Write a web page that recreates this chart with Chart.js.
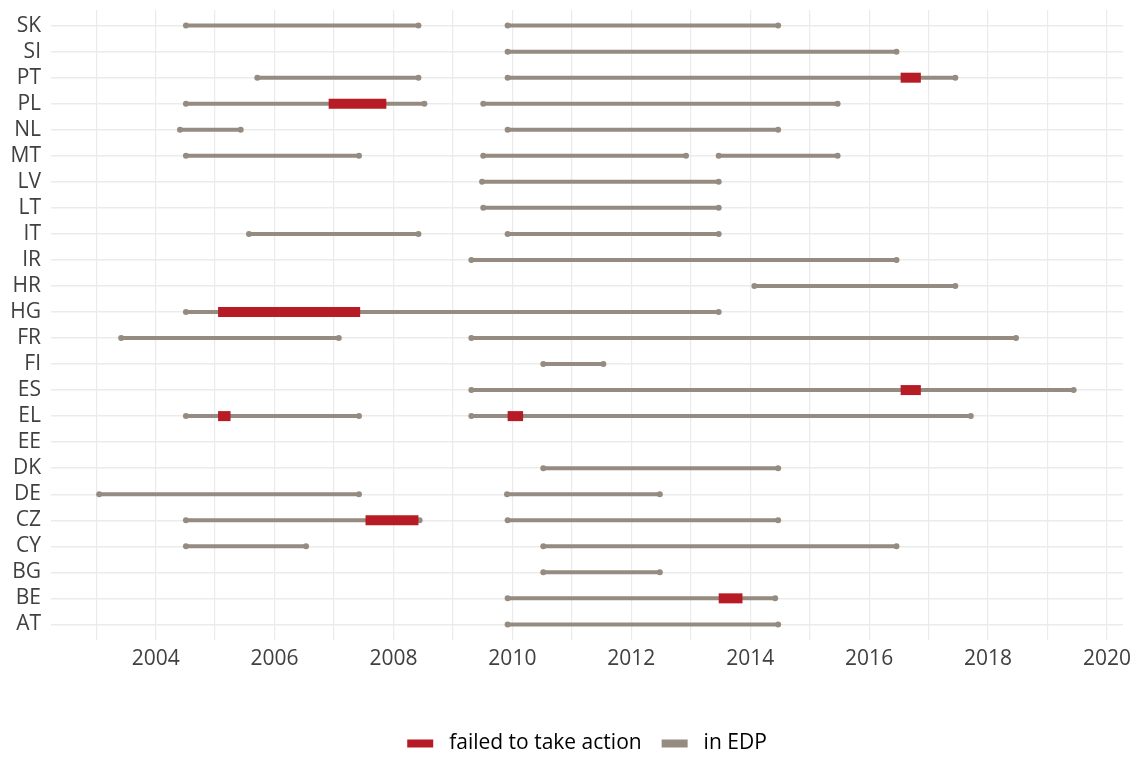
<!DOCTYPE html>
<html>
<head>
<meta charset="utf-8">
<script src="https://cdn.jsdelivr.net/npm/chart.js@4/dist/chart.umd.min.js"></script>
<style>
  html, body { margin: 0; padding: 0; background: #fff; }
  #wrap { width: 1137px; height: 758px; }
</style>
</head>
<body>
<div id="wrap"><canvas id="edpChart"></canvas></div>
<script>
// countries, top to bottom
const countries = ["SK","SI","PT","PL","NL","MT","LV","LT","IT","IR","HR","HG",
                   "FR","FI","ES","EL","EE","DK","DE","CZ","CY","BG","BE","AT"];

// periods in EDP (decimal years), one entry per country, null = none
const edpFirst = [
  [2004.51,2008.42], null, [2005.71,2008.42], [2004.51,2008.52], [2004.41,2005.43],
  [2004.51,2007.42], null, null, [2005.57,2008.42], null, null, [2004.51,2013.47],
  [2003.42,2007.08], null, null, [2004.51,2007.42], null, null, [2003.05,2007.42],
  [2004.51,2008.44], [2004.51,2006.53], null, null, null
];
const edpSecond = [
  [2009.92,2014.47], [2009.92,2016.46], [2009.92,2017.45], [2009.51,2015.47], [2009.92,2014.47],
  [2009.51,2012.92], [2009.49,2013.47], [2009.51,2013.47], [2009.92,2013.47], [2009.31,2016.46],
  [2014.07,2017.45], null, [2009.31,2018.47], [2010.52,2011.53], [2009.31,2019.44],
  [2009.31,2017.71], null, [2010.52,2014.47], [2009.91,2012.48], [2009.92,2014.47],
  [2010.52,2016.46], [2010.52,2012.48], [2009.92,2014.42], [2009.92,2014.47]
];
const edpThird = [
  null, null, null, null, null, [2013.47,2015.47], null, null, null, null, null, null,
  null, null, null, null, null, null, null, null, null, null, null, null
];

// periods flagged as "failed to take action"
const failedFirst = [
  null, null, [2016.53,2016.87], [2006.91,2007.88], null, null, null, null, null, null, null, [2005.05,2007.44],
  null, null, [2016.53,2016.87], [2005.05,2005.26], null, null, null, [2007.53,2008.42], null, null, [2013.47,2013.87], null
];
const failedSecond = [
  null, null, null, null, null, null, null, null, null, null, null, null,
  null, null, null, [2009.92,2010.18], null, null, null, null, null, null, null, null
];

// x axis: grid every year, label every second year
const gridYears = [2003,2004,2005,2006,2007,2008,2009,2010,2011,2012,2013,2014,2015,2016,2017,2018,2019,2020];
const labelYears = [2004,2006,2008,2010,2012,2014,2016,2018,2020];

const RED = "#b71b25";
const GREY = "#958b80";
const TEXT = "#404040";
const GRID = "#ebebeb";
const FONT = "'Open Sans', 'DejaVu Sans', sans-serif";

function toBars(list){
  const out = [];
  list.forEach((seg,i) => { if(seg) out.push({ y: i, x: seg }); });
  return out;
}
function toDots(){
  const out = [];
  [edpFirst, edpSecond, edpThird].forEach(list => {
    list.forEach((seg,i) => {
      if(!seg) return;
      out.push({ x: seg[0], y: i });
      out.push({ x: seg[1], y: i });
    });
  });
  return out;
}

const greyBar = { backgroundColor: GREY, maxBarThickness: 4, grouped: false, borderWidth: 0, order: 3 };
const redBar = { backgroundColor: RED, maxBarThickness: 10, grouped: false, borderWidth: 0, order: 1 };

const ctx = document.getElementById("edpChart").getContext("2d");
new Chart(ctx, {
  type: "bar",
  data: {
    datasets: [
      Object.assign({ label: "in EDP", data: toBars(edpFirst) }, greyBar),
      Object.assign({ label: "in EDP 2", data: toBars(edpSecond) }, greyBar),
      Object.assign({ label: "in EDP 3", data: toBars(edpThird) }, greyBar),
      { type: "scatter", label: "dots", data: toDots(), backgroundColor: GREY, borderWidth: 0,
        pointRadius: 3, pointHoverRadius: 3, order: 2 },
      Object.assign({ label: "failed to take action", data: toBars(failedFirst) }, redBar),
      Object.assign({ label: "failed 2", data: toBars(failedSecond) }, redBar)
    ]
  },
  options: {
    indexAxis: "y",
    responsive: true,
    maintainAspectRatio: false,
    animation: false,
    layout: { padding: { top: 10, right: 14, bottom: -6, left: 0 } },
    scales: {
      x: {
        type: "linear",
        min: 2002.24,
        max: 2020.27,
        border: { display: false },
        grid: { color: GRID, lineWidth: 1.2, drawTicks: false },
        afterBuildTicks: s => { s.ticks = gridYears.map(v => ({ value: v })); },
        afterFit: s => { s.height = 73; s.paddingLeft = 0; s.paddingRight = 0; },
        ticks: {
          padding: 6,
          color: TEXT,
          font: { family: FONT, size: 21 },
          autoSkip: false,
          maxRotation: 0,
          callback: v => labelYears.includes(v) ? String(v) : ""
        }
      },
      y: {
        type: "linear",
        reverse: true,
        offset: false,
        min: -0.6,
        max: countries.length - 1 + 0.6,
        border: { display: false },
        grid: { color: GRID, lineWidth: 1.4, drawTicks: false, offset: false },
        afterBuildTicks: s => { s.ticks = countries.map((c,i) => ({ value: i })); },
        afterFit: s => { s.width = 51; s.paddingTop = 0; s.paddingBottom = 0; },
        ticks: {
          padding: 10,
          color: TEXT,
          font: { family: FONT, size: 21 },
          autoSkip: false,
          callback: v => countries[v]
        }
      }
    },
    plugins: {
      tooltip: { enabled: false },
      legend: {
        position: "bottom",
        fullSize: false,
        labels: {
          boxWidth: 26,
          boxHeight: 8,
          padding: 20,
          color: TEXT,
          font: { family: FONT, size: 21 },
          generateLabels: () => [
            { text: " failed to take action", fillStyle: RED, strokeStyle: RED, lineWidth: 0, hidden: false, datasetIndex: 4 },
            { text: " in EDP", fillStyle: GREY, strokeStyle: GREY, lineWidth: 0, hidden: false, datasetIndex: 0 }
          ]
        },
        onClick: () => {}
      }
    }
  }
});
</script>
</body>
</html>
